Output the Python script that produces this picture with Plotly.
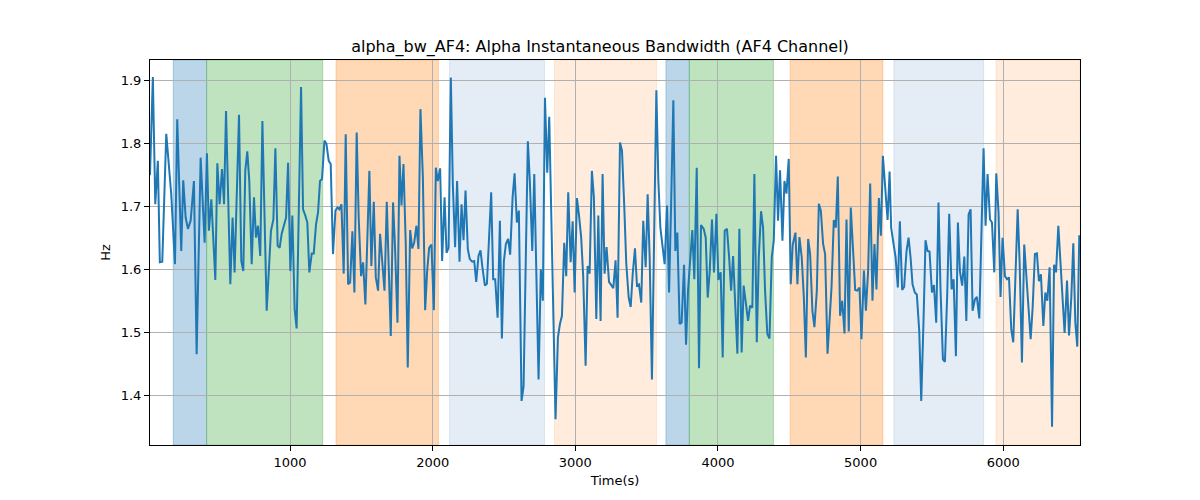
import plotly.graph_objects as go

time_s = [18, 38, 55, 73, 87, 104, 132, 148, 167, 193, 209, 237, 251, 268, 284, 303, 326, 345, 373, 401,
          417, 431, 448, 476, 490, 506, 523, 537, 551, 581, 597, 611, 642, 658, 672, 686,
          700, 714, 731, 747, 761, 775, 791, 806, 821, 836, 866, 883, 897, 913, 927, 941, 972, 986,
          1002, 1016, 1032, 1046, 1077, 1091, 1107, 1121, 1135, 1152, 1166, 1182, 1196, 1210, 1224,
          1241, 1255, 1271, 1285,
          1301, 1318, 1332, 1346, 1360, 1376, 1390, 1407, 1421, 1437, 1451, 1467, 1481, 1498, 1512,
          1528, 1556, 1570, 1587, 1601, 1617, 1631, 1647, 1662, 1678, 1692, 1706, 1722, 1736, 1753,
          1767, 1781, 1795, 1811, 1825, 1842, 1856, 1870, 1886, 1900, 1914, 1931, 1947, 1961, 1975,
          1991, 2008, 2022, 2036, 2052, 2066, 2083, 2097, 2111, 2127, 2141, 2157, 2171, 2188, 2202,
          2216, 2230, 2246, 2260, 2277, 2291, 2305, 2321, 2335, 2349, 2366, 2380, 2396, 2410, 2424,
          2438, 2455, 2471, 2485, 2499, 2513, 2529, 2543, 2560, 2574, 2590, 2604, 2623, 2637,
          2667, 2681, 2698, 2712, 2728, 2742, 2758, 2772, 2787, 2803, 2817, 2833, 2847, 2861, 2878,
          2892, 2906, 2922, 2936, 2950, 2967, 2981, 2995, 3011, 3025, 3041, 3055, 3072, 3086, 3100,
          3116, 3130, 3147, 3161, 3177, 3191, 3205, 3219, 3236, 3250, 3266, 3282,
          3296, 3313, 3327, 3343, 3357, 3374, 3388, 3402, 3418, 3432, 3446, 3462, 3476, 3493, 3507,
          3521, 3537, 3568, 3582, 3596, 3612, 3626, 3643, 3657, 3671, 3687, 3701, 3715, 3731, 3745,
          3762, 3776, 3790, 3806, 3820, 3834, 3851, 3867, 3881,
          3900, 3914, 3928, 3942, 3958, 3972, 3989, 4003, 4019, 4033, 4047, 4063, 4078, 4092, 4106,
          4122, 4136, 4150, 4166, 4180, 4197, 4211, 4225, 4241, 4255, 4272, 4286, 4302, 4316, 4330,
          4346, 4361, 4377, 4391, 4407, 4421, 4435, 4452, 4466, 4480, 4496, 4510, 4524,
          4543, 4557, 4571, 4587, 4602, 4616, 4632, 4646, 4662, 4676, 4693, 4707, 4721, 4737, 4751,
          4768, 4782, 4796, 4812, 4826, 4840, 4856, 4871, 4887, 4901, 4917, 4931, 4948, 4962, 4976,
          4992, 5006, 5023, 5037, 5053, 5067, 5083, 5097, 5111, 5128, 5142, 5156, 5172, 5189, 5203,
          5214, 5231, 5245, 5261, 5275, 5291, 5305, 5322, 5336, 5350, 5364, 5380, 5394, 5411, 5425,
          5441, 5455, 5469, 5483, 5500, 5514, 5530, 5546, 5560, 5577, 5591, 5607, 5621, 5638, 5652,
          5668, 5682, 5696, 5712, 5727, 5741, 5757, 5771, 5785, 5801, 5815, 5832, 5846,
          5862, 5876, 5890, 5907, 5921, 5937, 5951, 5967, 5981, 5995, 6012, 6026, 6040, 6056, 6070,
          6087, 6101, 6115, 6131, 6147, 6161, 6176, 6192, 6206, 6222, 6236, 6250, 6264, 6281, 6295,
          6309, 6325, 6342, 6356, 6370, 6386, 6400, 6416, 6430, 6447, 6461, 6477, 6491, 6505, 6519,
          6533]

alpha_bw = [1.75, 1.906, 1.704, 1.773, 1.612, 1.613, 1.816, 1.768, 1.720, 1.609, 1.839, 1.630, 1.742, 1.683,
            1.665, 1.678, 1.741, 1.466, 1.778, 1.643,
            1.785, 1.662, 1.712, 1.584, 1.769, 1.704, 1.760, 1.704, 1.852, 1.577, 1.683, 1.596, 1.846,
            1.614, 1.598, 1.757,
            1.788, 1.741, 1.609, 1.715, 1.651, 1.670, 1.622, 1.836, 1.683, 1.535, 1.662, 1.680, 1.793,
            1.638, 1.635, 1.657, 1.683, 1.770,
            1.598, 1.686, 1.538, 1.507, 1.890, 1.696, 1.686, 1.675, 1.596, 1.626, 1.626, 1.672, 1.691,
            1.741, 1.744,
            1.805, 1.800, 1.773, 1.768,
            1.625, 1.694, 1.699, 1.696, 1.704, 1.594, 1.815, 1.577, 1.580, 1.661, 1.564, 1.818, 1.683,
            1.590, 1.612,
            1.545, 1.757, 1.606, 1.708, 1.588, 1.567, 1.657, 1.609, 1.567, 1.708, 1.614, 1.495, 1.707,
            1.635, 1.516,
            1.781, 1.702, 1.768, 1.641, 1.445, 1.663, 1.634, 1.643, 1.670, 1.633, 1.855, 1.747, 1.536,
            1.598, 1.635,
            1.640, 1.536, 1.762, 1.741, 1.761, 1.614, 1.715, 1.627, 1.635, 1.905, 1.736, 1.636, 1.741,
            1.613, 1.704,
            1.647, 1.726, 1.633, 1.617, 1.613, 1.614, 1.581, 1.622, 1.631, 1.603, 1.575, 1.578, 1.651,
            1.723, 1.585,
            1.585, 1.524, 1.678, 1.491, 1.614, 1.641, 1.649, 1.624, 1.715, 1.753, 1.675, 1.694, 1.392,
            1.415,
            1.804, 1.740, 1.630, 1.752, 1.600, 1.426, 1.601, 1.551, 1.873, 1.754, 1.843, 1.683, 1.500,
            1.363, 1.493,
            1.514, 1.527, 1.643, 1.590, 1.723, 1.612, 1.677, 1.564, 1.714, 1.688, 1.651, 1.590, 1.448,
            1.606, 1.594,
            1.757, 1.715, 1.522, 1.686, 1.519, 1.752, 1.594, 1.636, 1.581, 1.577, 1.571, 1.615,
            1.524, 1.802, 1.789, 1.700, 1.610, 1.556, 1.541, 1.593, 1.634, 1.575, 1.577, 1.548, 1.678,
            1.604, 1.720,
            1.620, 1.426, 1.885, 1.741, 1.667, 1.635, 1.609, 1.702, 1.564, 1.700, 1.869, 1.630, 1.659,
            1.514, 1.516,
            1.608, 1.481, 1.567, 1.620, 1.663, 1.585, 1.762, 1.444, 1.671,
            1.665, 1.651, 1.556, 1.598, 1.680, 1.596, 1.689, 1.584, 1.596, 1.461, 1.662, 1.665, 1.620,
            1.567, 1.622,
            1.522, 1.467, 1.665, 1.469, 1.575, 1.548, 1.519, 1.543, 1.540, 1.752, 1.485, 1.620, 1.693,
            1.667, 1.567,
            1.498, 1.491, 1.620, 1.646, 1.781, 1.678, 1.758, 1.646, 1.741, 1.721, 1.776, 1.577, 1.640,
            1.659, 1.577, 1.652, 1.620, 1.556, 1.461, 1.649, 1.625, 1.535, 1.509, 1.567, 1.705, 1.694,
            1.641, 1.625,
            1.467, 1.524, 1.572, 1.679, 1.667, 1.748, 1.527, 1.551, 1.499, 1.680, 1.502, 1.699, 1.622,
            1.568, 1.567,
            1.572, 1.490, 1.599, 1.535, 1.600, 1.737, 1.551, 1.641, 1.569, 1.714, 1.654, 1.781, 1.735,
            1.679, 1.756,
            1.667, 1.641, 1.620, 1.572, 1.677, 1.568, 1.573, 1.630, 1.651, 1.620, 1.577, 1.564, 1.561,
            1.503, 1.392,
            1.520, 1.647, 1.630, 1.629, 1.564, 1.576, 1.516, 1.707, 1.570, 1.458, 1.454, 1.560, 1.689,
            1.569, 1.585,
            1.463, 1.675, 1.598, 1.575, 1.621, 1.519, 1.688, 1.696, 1.535, 1.553, 1.557, 1.523, 1.660,
            1.793, 1.670, 1.752, 1.680, 1.675, 1.596, 1.753, 1.690, 1.557, 1.651, 1.590, 1.585, 1.588,
            1.506, 1.485,
            1.600, 1.696, 1.610, 1.453, 1.640, 1.588, 1.535, 1.490, 1.540, 1.625, 1.626, 1.582, 1.593,
            1.511, 1.564,
            1.551, 1.604, 1.351, 1.608, 1.596, 1.670, 1.610, 1.540, 1.500, 1.583, 1.496, 1.556, 1.642,
            1.517, 1.478,
            1.655]

band_start = [181, 415, 1322, 2118, 2854, 3635, 3799, 4506, 5233, 5949]
band_end = [415, 1229, 2040, 2784, 3570, 3799, 4389, 5156, 5862, 6538]
band_kind = ["blue", "green", "orange", "lightblue", "lightorange",
             "blue", "green", "orange", "lightblue", "lightorange"]

x_range = [18, 6538]
y_range = [1.322, 1.933]
y_ticks = [1.4, 1.5, 1.6, 1.7, 1.8, 1.9]
x_ticks = [1000, 2000, 3000, 4000, 5000, 6000]

fill = {
    "blue": "rgba(31,119,180,0.3)",
    "green": "rgba(44,160,44,0.3)",
    "orange": "rgba(255,127,14,0.3)",
    "lightblue": "rgba(120,160,210,0.2)",
    "lightorange": "rgba(253,160,80,0.2)",
}

fig = go.Figure()
fig.add_trace(go.Scatter(x=time_s, y=alpha_bw, mode="lines",
                         line=dict(color="#1f77b4", width=2), showlegend=False))

for s, e, k in zip(band_start, band_end, band_kind):
    fig.add_shape(type="rect", xref="x", yref="paper", x0=s, x1=e, y0=0, y1=1,
                  fillcolor=fill[k], line=dict(width=1, color=fill[k]), layer="below")

axis_common = dict(showline=True, linecolor="black", linewidth=1, mirror=True,
                   ticks="outside", ticklen=5, tickcolor="black", tickwidth=1,
                   showgrid=True, gridcolor="#b0b0b0", gridwidth=1, zeroline=False,
                   tickfont=dict(family="DejaVu Sans", size=13, color="black"))

fig.update_xaxes(range=x_range, tickvals=x_ticks,
                 title=dict(text="Time(s)", font=dict(family="DejaVu Sans", size=13, color="black"),
                            standoff=7),
                 **axis_common)
fig.update_yaxes(range=y_range, tickvals=y_ticks, tickformat=".1f",
                 title=dict(text="Hz", font=dict(family="DejaVu Sans", size=13, color="black"),
                            standoff=7),
                 **axis_common)

fig.update_layout(
    width=1200, height=500,
    margin=dict(l=150, r=120, t=60, b=55),
    paper_bgcolor="white", plot_bgcolor="white",
    title=dict(text="alpha_bw_AF4: Alpha Instantaneous Bandwidth (AF4 Channel)",
               font=dict(family="DejaVu Sans", size=16, color="black"),
               x=0.5, xanchor="center", y=1 - 46 / 500, yref="container", yanchor="middle"),
    font=dict(family="DejaVu Sans"),
)

fig.write_html("out.html")
